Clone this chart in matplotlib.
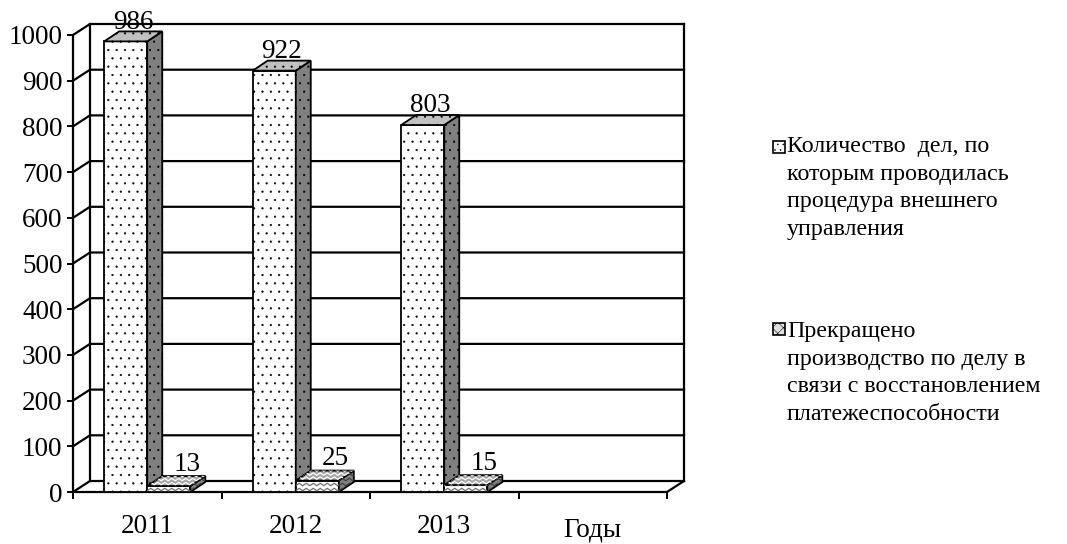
import matplotlib.pyplot as plt
from matplotlib.patches import Polygon, Rectangle
import numpy as np

# данные
years = ['2011', '2012', '2013']
axis_title = 'Годы'
cases = [986, 922, 803]
terminated = [13, 25, 15]
yticks = list(range(0, 1001, 100))
legend_labels = [
    'Количество  дел, по\nкоторым проводилась\nпроцедура внешнего\nуправления',
    'Прекращено\nпроизводство по делу в\nсвязи с восстановлением\nплатежеспособности',
]

plt.rcParams['font.family'] = ['Liberation Serif', 'DejaVu Serif']
plt.rcParams['hatch.linewidth'] = 0.35

W, H = 1067, 544
fig = plt.figure(figsize=(W / 100, H / 100), dpi=100, facecolor='white')
ax = fig.add_axes([73 / W, 52 / H, 594 / W, 457 / H])
ncat = len(years) + 1
ax.set_xlim(-0.5, ncat - 0.5)
ax.set_ylim(0, 1000)
ax.patch.set_visible(False)
for s in ax.spines.values():
    s.set_visible(False)

# глубина "3D" в единицах данных
px_x = ncat / 594.0
px_y = 1000 / 457.0
DX = 17 * px_x
DY = 11 * px_y
BDX = 15 * px_x
BDY = 10 * px_y
lw = 1.6
x0, x1 = -0.5, ncat - 0.5
fs = 19.5

# стенки и сетка
for v in yticks:
    ax.plot([x0, x0 + DX, x1 + DX], [v, v + DY, v + DY], color='black', lw=lw, clip_on=False, zorder=1)
ax.plot([x0 + DX, x0 + DX], [DY, 1000 + DY], color='black', lw=lw, clip_on=False, zorder=1)
ax.plot([x1 + DX, x1 + DX], [DY, 1000 + DY], color='black', lw=lw, clip_on=False, zorder=1)
ax.plot([x0, x0], [0, 1000], color='black', lw=lw, clip_on=False, zorder=1)
ax.plot([x0, x1, x1 + DX], [0, 0, DY], color='black', lw=lw, clip_on=False, zorder=1)


def zigzag(patch, color, z, row=5.0):
    # волнистая штриховка, обрезанная по грани
    verts = patch.get_patch_transform().transform(patch.get_path().vertices)
    xa, xb = verts[:, 0].min(), verts[:, 0].max()
    ya, yb = verts[:, 1].min(), verts[:, 1].max()
    step = 3.5 * px_x
    xs = np.arange(xa - step, xb + 2 * step, step)
    for yy in np.arange(ya + 2.5 * px_y, yb + row * px_y, row * px_y):
        ys = yy + np.where(np.arange(len(xs)) % 2 == 0, 1.2, -1.2) * px_y
        line, = ax.plot(xs, ys, color=color, lw=0.9, zorder=z + 0.1)
        line.set_clip_path(patch)


def box3d(x, w, v, side_c, top_c, z, hatch=None):
    side = Polygon([(x + w, 0), (x + w + BDX, BDY), (x + w + BDX, v + BDY), (x + w, v)],
                   closed=True, facecolor=side_c, edgecolor='black', lw=1.3, hatch=hatch,
                   zorder=z, clip_on=False)
    top = Polygon([(x, v), (x + w, v), (x + w + BDX, v + BDY), (x + BDX, v + BDY)],
                  closed=True, facecolor=top_c, edgecolor='black', lw=1.3, hatch=hatch,
                  zorder=z, clip_on=False)
    ax.add_patch(side)
    ax.add_patch(top)
    return side, top


bw = 0.29
xs = np.arange(len(years))

# первая серия
bars1 = ax.bar(xs - bw, cases, width=bw, align='edge', facecolor='white', edgecolor='black',
               lw=1.3, hatch='..', zorder=3, clip_on=False)
for x, v in zip(xs, cases):
    box3d(x - bw, bw, v, '#808080', '#c0c0c0', 3, hatch='..')
    ax.annotate(str(v), (x - bw / 2 + BDX / 2, v + BDY), xytext=(0, 2), textcoords='offset points',
                ha='center', va='baseline', fontsize=fs, zorder=6, annotation_clip=False)

# вторая серия
bars2 = ax.bar(xs, terminated, width=bw, align='edge', facecolor='white', edgecolor='black',
               lw=1.3, zorder=4, clip_on=False)
for b in bars2:
    zigzag(b, '#707070', 4)
for x, v in zip(xs, terminated):
    side, top = box3d(x, bw, v, '#808080', '#a6a6a6', 4)
    zigzag(side, '#404040', 4)
    zigzag(top, 'white', 4, row=4.0)
    ax.annotate(str(v), (x + bw / 2 + 1.2 * BDX, v + BDY), xytext=(0, 4), textcoords='offset points',
                ha='center', va='baseline', fontsize=fs, zorder=6, annotation_clip=False)

# оси
ax.set_yticks(yticks)
ax.tick_params(axis='y', length=4.5, width=1.4, pad=3, labelsize=fs, direction='out')
ax.set_xticks(np.arange(ncat + 1) - 0.5)
ax.set_xticklabels([])
ax.tick_params(axis='x', which='major', length=5, width=1.4, direction='out')
ax.set_xticks(xs, years, minor=True)
ax.tick_params(axis='x', which='minor', length=0, pad=16, labelsize=fs)
ax.text(len(years), -26 / 457, axis_title, transform=ax.get_xaxis_transform(), ha='center',
        va='top', fontsize=fs)

# легенда
fig.patches.append(Rectangle((773 / W, 1 - 153 / H), 12 / W, 12 / H, transform=fig.transFigure,
                             facecolor='white', edgecolor='black', lw=1.2, hatch='...'))
fig.patches.append(Rectangle((773 / W, 1 - 335 / H), 12 / W, 12 / H, transform=fig.transFigure,
                             facecolor='#e0e0e0', edgecolor='black', lw=1.2, hatch='xxx'))
fig.text(787 / W, 1 - 136 / H, legend_labels[0], ha='left', va='top', fontsize=17.3,
         linespacing=1.42)
fig.text(787 / W, 1 - 321 / H, legend_labels[1], ha='left', va='top', fontsize=17.3,
         linespacing=1.42)

fig.savefig('out.png', dpi=100, facecolor='white')
